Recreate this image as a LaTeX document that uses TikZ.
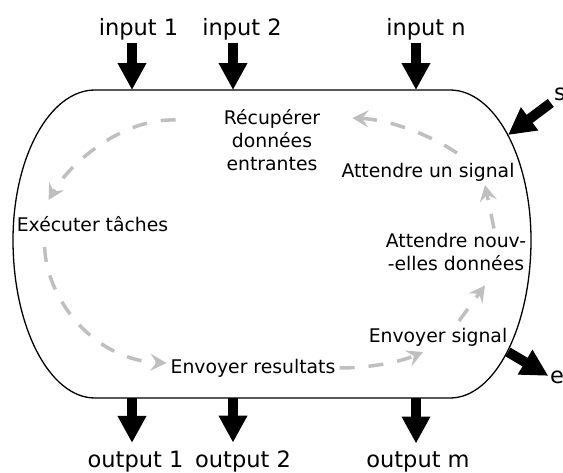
\documentclass[tikz,border=0pt]{standalone}
\usepackage{fontspec}
\setmainfont{DejaVu Sans}
\usetikzlibrary{arrows.meta,calc}

\definecolor{flowgray}{RGB}{191,191,191}

\tikzset{
  big/.style={line width=10pt,-{Triangle[length=27pt,width=27pt]}},
  flow/.style={flowgray,line width=3.5pt,dash pattern=on 15pt off 14pt,
    -{Stealth[length=16pt,width=17pt,inset=6pt]}},
  io/.style={inner sep=0pt,anchor=base,font=\fontsize{22.5}{27}\selectfont},
  task/.style={inner sep=0pt,anchor=base,align=center,font=\fontsize{18.8}{23}\selectfont},
}

\begin{document}
\begin{tikzpicture}[x=1pt,y=-1pt]
  \useasboundingbox (0,0) rectangle (563,472);

  % the process
  \draw[line width=1.3pt] (95,90) -- (450,90)
    .. controls (494.7,90) and (531,157.2) .. (531,240)
    .. controls (531,327.3) and (494.7,398) .. (450,398) -- (95,398)
    .. controls (49.7,398) and (13,327.3) .. (13,240)
    .. controls (13,157.2) and (49.7,90) .. (95,90) -- cycle;

  \coordinate (ip1) at (132,90);
  \coordinate (ip2) at (233,90);
  \coordinate (ipn) at (416,90);
  \coordinate (op1) at (132,398);
  \coordinate (op2) at (233,398);
  \coordinate (opm) at (416,398);
  \coordinate (sin) at (508,135);
  \coordinate (sout) at (508,352);

  % inputs and outputs
  \node[io] (in1) at (138.5,35) {input 1};
  \node[io] (in2) at (242,35) {input 2};
  \node[io] (inn) at (426,35) {input n};
  \node[io] (out1) at (135.5,467) {output 1};
  \node[io] (out2) at (243,467) {output 2};
  \node[io] (outm) at (418,467) {output m};
  \node[io,anchor=base west] (sig) at (554,100) {s};
  \node[io,anchor=base west] (end) at (550,383) {e};

  \draw[big,shorten <=3pt] (in1.south -| ip1) -- (ip1);
  \draw[big,shorten <=3pt] (in2.south -| ip2) -- (ip2);
  \draw[big,shorten <=3pt] (inn.south -| ipn) -- (ipn);
  \draw[big,shorten >=7.5pt] (op1) -- (op1 |- out1.north);
  \draw[big,shorten >=7.5pt] (op2) -- (op2 |- out2.north);
  \draw[big,shorten >=7.5pt] (opm) -- (opm |- outm.north);
  \draw[big,shorten <=4pt] (sig.south west) -- (sin);
  \draw[big,shorten >=2pt] (sout) -- (end.west);

  % the loop
  \node[task] (rec) at (272,170) {Récupérer\\données\\entrantes};
  \node[task] (wsig) at (428,177) {Attendre un signal};
  \node[task] (exec) at (92.5,231) {Exécuter tâches};
  \node[task] (wdat) at (456,270) {Attendre nouv-\\-elles données};
  \node[task] (ssig) at (438,342) {Envoyer signal};
  \node[task] (sres) at (253,373) {Envoyer resultats};

  \draw[flow] ($(rec.base west)+(-48,-50)$) .. controls +(-55,-2) and +(20,-35) .. ($(exec.base west)+(32,-31)$);
  \draw[flow] ($(exec.base west)+(28,16)$) .. controls +(2,53) and +(-72,-3) .. ($(sres.base west)+(-4,-10)$);
  \draw[flow] ($(sres.base east)+(4,-5)$) .. controls +(30,0) and +(-23,10) .. ($(ssig.base)+(-15,10)$);
  \draw[flow] ($(ssig.base)+(21,-21)$) -- ($(wdat.south)+(29,15)$);
  \draw[flow] ($(wdat.north)+(38,-4)$) -- ($(wsig.base)+(57,8)$);
  \draw[flow] ($(wsig.base)+(29,-24)$) .. controls +(-22,-15) and +(42,2) .. ($(rec.base east)+(32,-52)$);
\end{tikzpicture}
\end{document}
